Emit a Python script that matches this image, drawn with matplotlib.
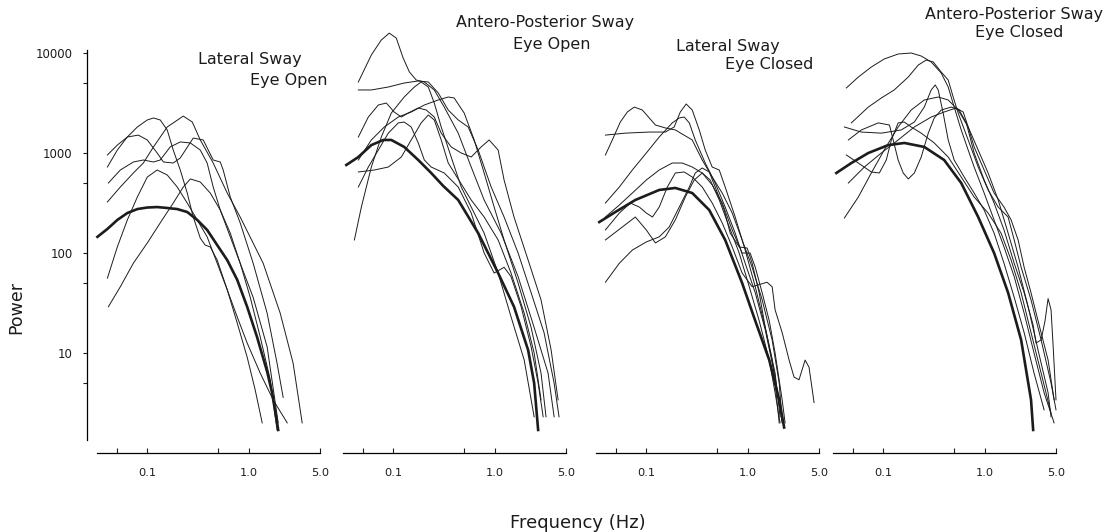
import matplotlib.pyplot as plt
from matplotlib.ticker import FixedLocator, NullFormatter, FixedFormatter

# ---- Lateral sway, eye open (panel 1) ----
lo_thick_f = [0.0323, 0.0405, 0.0507, 0.0636, 0.0798, 0.100, 0.125, 0.157, 0.197, 0.247,
              0.310, 0.388, 0.487, 0.611, 0.766, 0.960, 1.20, 1.51, 1.69, 1.94]
lo_thick_p = [145, 174, 214, 251, 275, 285, 288, 282, 275, 257,
              214, 170, 120, 85, 54, 29, 14.5, 6.5, 4.0, 1.7]
lo_f = [
    [0.0405, 0.0507, 0.0636, 0.0798, 0.100, 0.115, 0.134, 0.157, 0.180, 0.211, 0.247,
     0.283, 0.332, 0.371, 0.416, 0.487, 0.611, 0.766, 0.960, 1.15, 1.35],
    [0.0405, 0.0543, 0.0729, 0.0914, 0.115, 0.157, 0.226, 0.277, 0.332, 0.445, 0.611,
     0.820, 1.38, 2.03, 2.72, 3.34],
    [0.0405, 0.0507, 0.0636, 0.0816, 0.100, 0.125, 0.144, 0.180, 0.211, 0.283, 0.355,
     0.445, 0.522, 0.558, 0.655, 0.820, 1.10, 1.51, 1.89, 2.17],
    [0.0414, 0.0543, 0.0729, 0.0914, 0.115, 0.134, 0.168, 0.211, 0.265, 0.332, 0.388,
     0.445, 0.522, 0.655, 0.820, 1.10, 1.51, 1.94],
    [0.0405, 0.0507, 0.0636, 0.0798, 0.100, 0.125, 0.157, 0.197, 0.247, 0.310, 0.388,
     0.487, 0.611, 0.766, 0.960, 1.29, 1.73, 2.38],
    [0.0414, 0.0543, 0.0729, 0.100, 0.134, 0.180, 0.226, 0.265, 0.332, 0.416, 0.522,
     0.655, 0.820, 1.03, 1.29, 1.62, 1.89],
]
lo_p = [
    [724, 1070, 1445, 1820, 2140, 2240, 2140, 1700, 1070, 676, 398,
     229, 141, 120, 115, 85, 43, 20, 9.1, 4.3, 2.0],
    [324, 457, 631, 794, 1150, 1820, 2340, 2040, 1350, 794, 398,
     229, 79, 25, 7.9, 2.0],
    [955, 1200, 1445, 1510, 1350, 1000, 813, 794, 891, 1410, 1350,
     851, 813, 676, 363, 200, 79, 25, 7.9, 3.6],
    [501, 676, 813, 851, 813, 851, 1150, 1290, 1260, 1070, 794,
     457, 269, 145, 79, 36, 11.5, 2.0],
    [56, 115, 214, 363, 575, 676, 603, 457, 316, 214, 145,
     79, 43, 23, 12.6, 6.3, 3.4, 2.0],
    [29, 46, 79, 126, 200, 316, 457, 550, 513, 398, 269,
     158, 79, 36, 14.5, 5.4, 1.7],
]

# ---- Antero-posterior sway, eye open (panel 2) ----
ao_thick_f = [0.0345, 0.0453, 0.0608, 0.0798, 0.0956, 0.128, 0.176, 0.236, 0.310, 0.435,
              0.684, 1.075, 1.54, 2.12, 2.43, 2.66]
ao_thick_p = [759, 912, 1200, 1350, 1350, 1150, 851, 631, 468, 339,
              158, 63, 29, 10.7, 5.0, 1.7]
ao_f = [
    [0.0453, 0.0608, 0.0762, 0.0914, 0.107, 0.125, 0.144, 0.168, 0.202, 0.253, 0.317,
     0.435, 0.584, 0.783, 1.15, 1.69, 2.43, 3.33, 3.82],
    [0.0453, 0.0608, 0.0893, 0.128, 0.176, 0.221, 0.277, 0.347, 0.435, 0.545, 0.684,
     0.918, 1.23, 1.69, 2.27, 3.04, 3.82, 4.27],
    [0.0414, 0.0485, 0.0608, 0.0762, 0.0956, 0.128, 0.161, 0.188, 0.221, 0.253, 0.296,
     0.371, 0.466, 0.584, 0.783, 1.075, 1.44, 1.94, 2.43],
    [0.0453, 0.0568, 0.0712, 0.0854, 0.102, 0.120, 0.140, 0.176, 0.211, 0.253, 0.296,
     0.371, 0.466, 0.584, 0.732, 0.877, 1.075, 1.23, 1.54, 2.12, 2.84, 3.57, 4.18],
    [0.0453, 0.0608, 0.0816, 0.112, 0.150, 0.202, 0.277, 0.347, 0.397, 0.498, 0.625,
     0.783, 0.982, 1.23, 1.69, 2.27, 2.84, 3.18],
    [0.0453, 0.0568, 0.0712, 0.0893, 0.112, 0.128, 0.150, 0.176, 0.202, 0.236, 0.317,
     0.435, 0.584, 0.783, 0.982, 1.23, 1.44, 1.81, 2.27, 2.66, 2.98],
    [0.0453, 0.0651, 0.0893, 0.120, 0.150, 0.188, 0.221, 0.253, 0.296, 0.347, 0.584,
     0.783, 1.075, 1.44, 1.94, 2.43, 2.84],
]
ao_p = [
    [5130, 9550, 13500, 15800, 14100, 8910, 6460, 5370, 5130, 4270, 2880,
     1580, 724, 339, 158, 58, 18, 6.3, 2.3],
    [4270, 4270, 4570, 5010, 5250, 5130, 3980, 2690, 2140, 1820, 1070,
     457, 229, 100, 40, 16, 5.0, 2.3],
    [135, 288, 724, 1445, 2510, 3630, 4570, 5130, 4570, 3160, 1820,
     912, 457, 288, 158, 63, 23, 8.5, 2.3],
    [1445, 2290, 3020, 3160, 2570, 2290, 2510, 2820, 2690, 2290, 1580,
     1150, 1000, 912, 1150, 1350, 1070, 537, 229, 85, 34, 10.7, 3.4],
    [851, 1350, 1820, 2290, 2570, 3020, 3390, 3630, 3550, 2510, 1350,
     631, 288, 135, 50, 18, 6.3, 2.3],
    [457, 724, 1070, 1580, 2000, 2040, 1820, 1260, 851, 724, 631,
     457, 251, 100, 63, 72, 58, 29, 11.5, 5.0, 2.3],
    [646, 676, 724, 912, 1350, 2000, 2400, 2140, 1350, 794, 339,
     229, 135, 63, 25, 10, 3.4],
]

# ---- Lateral sway, eye closed (panel 3) ----
lc_thick_f = [0.0345, 0.0496, 0.0780, 0.134, 0.193, 0.283, 0.416, 0.597, 0.877, 1.18,
              1.62, 2.03, 2.27]
lc_thick_p = [204, 257, 339, 427, 447, 398, 269, 135, 50, 21, 8.5, 3.4, 1.8]
lc_f = [
    [0.0396, 0.0463, 0.0555, 0.0651, 0.0762, 0.0914, 0.107, 0.123, 0.154, 0.193, 0.283,
     0.355, 0.445, 0.558, 0.700, 0.877, 1.10, 1.38, 1.73, 2.03, 2.17],
    [0.0396, 0.0622, 0.107, 0.154, 0.188, 0.216, 0.247, 0.283, 0.332, 0.380, 0.445,
     0.522, 0.597, 0.749, 0.939, 1.18, 1.48, 1.85, 2.07],
    [0.0396, 0.0543, 0.0729, 0.100, 0.134, 0.180, 0.211, 0.236, 0.265, 0.303, 0.380,
     0.476, 0.597, 0.749, 0.939, 1.18, 1.48, 1.85, 2.17],
    [0.0396, 0.0543, 0.0729, 0.100, 0.134, 0.180, 0.226, 0.283, 0.355, 0.445, 0.558,
     0.700, 0.877, 1.05, 1.18, 1.38, 1.62, 1.85, 2.17, 2.32],
    [0.0396, 0.0543, 0.0697, 0.0854, 0.100, 0.115, 0.134, 0.161, 0.193, 0.236, 0.283,
     0.355, 0.445, 0.558, 0.700, 0.877, 1.10, 1.54, 1.73, 1.85, 2.17, 2.54, 2.84,
     3.18, 3.65, 3.99, 4.47],
    [0.0396, 0.0581, 0.0780, 0.100, 0.123, 0.154, 0.193, 0.242, 0.296, 0.355, 0.425,
     0.522, 0.655, 0.820, 1.03, 1.29, 1.62, 1.85, 2.07],
    [0.0396, 0.0543, 0.0729, 0.100, 0.134, 0.168, 0.211, 0.265, 0.303, 0.355, 0.416,
     0.476, 0.584, 0.669, 0.820, 0.982, 1.10, 1.29, 1.48, 1.73, 1.85, 2.03],
]
lc_p = [
    [955, 1350, 2040, 2570, 2880, 2690, 2240, 1905, 1780, 1700, 1350,
     851, 575, 398, 251, 135, 72, 34, 13.5, 5.0, 2.1],
    [1510, 1580, 1620, 1620, 1820, 2570, 3090, 2690, 1700, 1070, 724,
     676, 457, 229, 107, 46, 18, 6.3, 2.3],
    [316, 457, 676, 1000, 1445, 2000, 2240, 2290, 2000, 1350, 794,
     501, 288, 158, 79, 40, 17, 5.75, 2.0],
    [229, 302, 398, 537, 676, 794, 794, 724, 631, 479, 316,
     170, 100, 100, 72, 40, 21, 10, 3.4, 2.0],
    [170, 251, 316, 288, 251, 229, 288, 457, 631, 646, 575,
     457, 316, 200, 115, 63, 46, 51, 46, 27, 16, 8.5, 5.75,
     5.4, 8.5, 7.2, 3.2],
    [135, 182, 229, 170, 126, 145, 214, 363, 537, 631, 537,
     339, 182, 100, 46, 21, 8.5, 4.0, 2.0],
    [51, 79, 107, 129, 145, 182, 288, 457, 631, 708, 646,
     457, 269, 158, 115, 112, 79, 40, 18, 8.5, 5.0, 2.0],
]

# ---- Antero-posterior sway, eye closed (panel 4) ----
ac_thick_f = [0.0345, 0.0485, 0.0712, 0.112, 0.161, 0.253, 0.397, 0.584, 0.858, 1.23,
              1.69, 2.27, 2.84, 2.98]
ac_thick_p = [631, 794, 1000, 1200, 1260, 1150, 851, 501, 229, 100, 40, 13.5, 3.4, 1.7]
ac_f = [
    [0.0433, 0.0568, 0.0762, 0.102, 0.140, 0.188, 0.236, 0.296, 0.371, 0.435, 0.498,
     0.584, 0.684, 0.783, 0.982, 1.23, 1.54, 1.94, 2.43, 3.04, 3.82, 4.79],
    [0.0485, 0.0712, 0.0956, 0.128, 0.176, 0.221, 0.265, 0.310, 0.371, 0.435, 0.487,
     0.545, 0.684, 0.858, 1.075, 1.35, 1.69, 1.94, 2.27, 2.84, 3.57, 4.47, 5.00],
    [0.0414, 0.0608, 0.0956, 0.150, 0.202, 0.253, 0.296, 0.324, 0.347, 0.388, 0.435,
     0.498, 0.625, 0.783, 0.982, 1.23, 1.54, 1.94, 2.43, 3.04, 3.82],
    [0.0453, 0.0651, 0.0956, 0.140, 0.202, 0.296, 0.397, 0.522, 0.611, 0.684, 0.783,
     0.982, 1.23, 1.54, 1.81, 2.12, 2.43, 2.84, 3.33, 4.18, 4.79],
    [0.0433, 0.0568, 0.0762, 0.0914, 0.107, 0.120, 0.140, 0.161, 0.188, 0.236, 0.317,
     0.435, 0.584, 0.783, 1.075, 1.44, 1.81, 2.27, 2.84, 3.57, 4.47],
    [0.0453, 0.0608, 0.0893, 0.115, 0.140, 0.157, 0.176, 0.202, 0.236, 0.277, 0.317,
     0.371, 0.466, 0.558, 0.655, 0.783, 0.982, 1.23, 1.54, 1.94, 2.43, 2.98, 3.18,
     3.57, 3.90, 4.18, 4.47, 4.68, 5.00],
    [0.0414, 0.0568, 0.0762, 0.102, 0.140, 0.188, 0.253, 0.347, 0.435, 0.545, 0.684,
     0.858, 1.075, 1.35, 1.69, 2.12, 2.66, 3.33, 4.18, 4.47],
]
ac_p = [
    [4470, 5750, 7240, 8710, 9770, 10000, 9330, 8130, 6310, 4570, 2880,
     1700, 1070, 724, 398, 214, 115, 58, 25, 10, 4.0, 2.0],
    [2000, 2880, 3550, 4270, 5750, 7590, 8510, 8130, 6460, 5370, 3630,
     2510, 1350, 724, 427, 288, 229, 135, 72, 34, 13.5, 5.0, 2.7],
    [1820, 1620, 1580, 1700, 2040, 2880, 4270, 4790, 4270, 2510, 1350,
     851, 575, 398, 269, 158, 79, 36, 16, 6.3, 2.7],
    [501, 724, 1000, 1350, 1820, 2290, 2570, 2820, 2570, 1820, 1150,
     676, 398, 288, 214, 135, 72, 40, 21, 8.5, 3.4],
    [955, 794, 646, 631, 851, 1350, 2000, 2040, 1820, 1580, 1260,
     912, 575, 363, 251, 158, 85, 40, 16, 6.3, 2.5],
    [1350, 1700, 2000, 1905, 851, 631, 550, 631, 912, 1580, 2240,
     2690, 2880, 2690, 2000, 1000, 537, 316, 170, 79, 40, 19, 12.6,
     13.5, 21, 35, 27, 12, 3.4],
    [224, 363, 631, 1070, 1820, 2690, 3390, 3630, 3390, 2690, 1820,
     1070, 631, 339, 158, 72, 29, 10.7, 4.0, 2.3],
]

titles = [("Lateral Sway", "Eye Open"),
          ("Antero-Posterior Sway", "Eye Open"),
          ("Lateral Sway", "Eye Closed"),
          ("Antero-Posterior Sway", "Eye Closed")]
x_ticks = [0.1, 1.0, 5.0]
x_tick_labels = ["0.1", "1.0", "5.0"]
y_ticks = [10, 100, 1000, 10000]
y_tick_labels = ["10", "100", "1000", "10000"]

W, H = 1110, 532
fig = plt.figure(figsize=(W / 100, H / 100), dpi=100)
plt.rcParams['font.family'] = ['DejaVu Sans']
ink = '#1c1c1c'


def fx(px):
    return px / W


def fy(py):
    return 1 - py / H


panel_left = [97, 343, 596, 833]
panels = [(lo_f, lo_p, lo_thick_f, lo_thick_p),
          (ao_f, ao_p, ao_thick_f, ao_thick_p),
          (lc_f, lc_p, lc_thick_f, lc_thick_p),
          (ac_f, ac_p, ac_thick_f, ac_thick_p)]

for i, (fl, pl, tf, tp) in enumerate(panels):
    ax = fig.add_axes([fx(panel_left[i]), fy(440), 223 / W, 427 / H])
    ax.set_xscale('log')
    ax.set_yscale('log')
    ax.set_xlim(0.032, 5.0)
    ax.set_ylim(10 ** 0.13, 10 ** 4.40)
    ax.patch.set_alpha(0)
    for f, p in zip(fl, pl):
        ax.plot(f, p, color=ink, lw=0.7, clip_on=False, solid_joinstyle='round')
    ax.plot(tf, tp, color=ink, lw=1.9, clip_on=False, solid_joinstyle='round')

    for s in ['top', 'right']:
        ax.spines[s].set_visible(False)
    ax.spines['bottom'].set_position(('outward', 9.4))
    ax.spines['bottom'].set_linewidth(0.9)
    ax.xaxis.set_major_locator(FixedLocator(x_ticks))
    ax.xaxis.set_major_formatter(FixedFormatter(x_tick_labels))
    ax.xaxis.set_minor_locator(FixedLocator([0.05, 0.5]))
    ax.xaxis.set_minor_formatter(NullFormatter())
    ax.tick_params(axis='x', which='both', direction='in', length=3.6, width=0.8,
                   pad=11, labelsize=8.2, color=ink, labelcolor=ink)

    if i == 0:
        ax.spines['left'].set_position(('outward', 7.5))
        ax.spines['left'].set_bounds(10 ** 0.13, 10 ** 4.03)
        ax.spines['left'].set_linewidth(0.9)
        ax.yaxis.set_major_locator(FixedLocator(y_ticks))
        ax.yaxis.set_major_formatter(FixedFormatter(y_tick_labels))
        ax.yaxis.set_minor_locator(FixedLocator([5, 50, 500, 5000]))
        ax.yaxis.set_minor_formatter(NullFormatter())
        ax.tick_params(axis='y', which='both', direction='out', length=3, width=0.8,
                       pad=7, labelsize=8.5, color=ink, labelcolor=ink)
    else:
        ax.spines['left'].set_visible(False)
        ax.yaxis.set_major_locator(FixedLocator([]))
        ax.yaxis.set_minor_locator(FixedLocator([]))

# panel titles (centre positions in pixels)
title_pos = [((250, 60), (289, 80)),
             ((545, 22), (552, 45)),
             ((728, 47), (769, 65)),
             ((1014, 15), (1019, 33))]
for (t1, t2), ((x1, y1), (x2, y2)) in zip(titles, title_pos):
    fig.text(fx(x1), fy(y1), t1, ha='center', va='center', fontsize=11.5, color=ink)
    fig.text(fx(x2), fy(y2), t2, ha='center', va='center', fontsize=11.5, color=ink)

fig.text(fx(16), fy(307), "Power", rotation=90, ha='center', va='center',
         fontsize=12.5, color=ink)
fig.text(fx(578), fy(523), "Frequency (Hz)", ha='center', va='center',
         fontsize=13, color=ink)

fig.savefig('out.png', dpi=100, facecolor='white')
